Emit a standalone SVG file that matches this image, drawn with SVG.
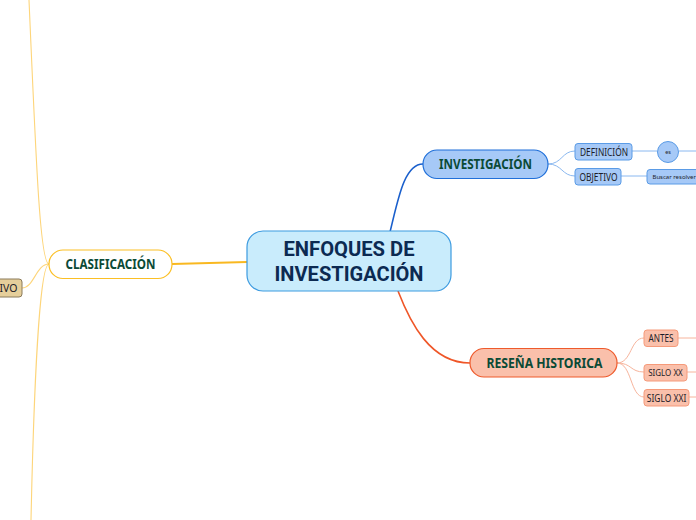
<svg xmlns="http://www.w3.org/2000/svg" width="696" height="520" viewBox="0 0 696 520">
<style>
.lbl{font-family:"Noto Sans","Liberation Sans",sans-serif;font-weight:bold;fill:#0b4a36;text-anchor:middle}
.sm{font-family:"Noto Sans","Liberation Sans",sans-serif;fill:#1c1c28;text-anchor:middle}
.c{fill:none}
</style>
<rect width="696" height="520" fill="#ffffff"/>
<g id="connectors" class="c">
<path d="M390,232 C398,200 404,164 423,164" stroke="#1a5fcc" stroke-width="1.6"/>
<path d="M398,291 C410,322 430,363 470,363" stroke="#ef5628" stroke-width="1.6"/>
<path d="M172,264 L247,262" stroke="#f9b820" stroke-width="1.8"/>
<path d="M548,164 C562,164 562,151 575,151" stroke="#8ab8f0" stroke-width="1"/>
<path d="M548,164 C562,164 562,176 575,176" stroke="#8ab8f0" stroke-width="1"/>
<path d="M632,151 L657,151 M679,151 L696,151 M621,176 L647,176" stroke="#8ab8f0" stroke-width="1"/>
<path d="M617,363 C632,363 630,338 644,338" stroke="#f7b49c" stroke-width="1"/>
<path d="M617,363 C632,363 630,372 644,372" stroke="#f7b49c" stroke-width="1"/>
<path d="M617,363 C632,363 630,397 644,397" stroke="#f7b49c" stroke-width="1"/>
<path d="M678,338 L696,338 M687,372 L696,372 M689,397 L696,397" stroke="#f7b49c" stroke-width="1"/>
<path d="M49,264 C40,264 36,160 29,0" stroke="#fdd57a" stroke-width="1.1"/>
<path d="M49,264 C40,264 34,380 31,520" stroke="#fdd57a" stroke-width="1.1"/>
<path d="M49,264 C36,264 34,288 22,288" stroke="#fdd57a" stroke-width="1.1"/>
</g>
<g id="central">
<rect x="247" y="231" width="204" height="60" rx="16" fill="#c9ecfc" stroke="#3d9be0" stroke-width="1.2"/>
<text x="349" y="256" font-family="Roboto,'Liberation Sans',sans-serif" font-weight="bold" font-size="21" fill="#0c2a52" text-anchor="middle" textLength="131" lengthAdjust="spacingAndGlyphs">ENFOQUES DE</text>
<text x="349" y="281" font-family="Roboto,'Liberation Sans',sans-serif" font-weight="bold" font-size="21" fill="#0c2a52" text-anchor="middle" textLength="149" lengthAdjust="spacingAndGlyphs">INVESTIGACIÓN</text>
</g>
<g id="investigacion">
<rect x="423" y="150" width="125" height="28.5" rx="14" fill="#a6c9f7" stroke="#1f6fd9" stroke-width="1.2"/>
<text class="lbl" x="485.5" y="169" font-size="13.5" textLength="93" lengthAdjust="spacingAndGlyphs">INVESTIGACIÓN</text>
</g>
<g id="definicion">
<rect x="575" y="143.5" width="57" height="16.5" rx="3" fill="#a6c9f7" stroke="#5a9be6" stroke-width="1"/>
<text class="sm" x="604" y="155.5" font-size="10.5" textLength="48" lengthAdjust="spacingAndGlyphs">DEFINICIÓN</text>
</g>
<g id="objetivo">
<rect x="575" y="168.5" width="46" height="16.5" rx="3" fill="#a6c9f7" stroke="#5a9be6" stroke-width="1"/>
<text class="sm" x="598.5" y="180.5" font-size="10.5" textLength="38" lengthAdjust="spacingAndGlyphs">OBJETIVO</text>
</g>
<g id="es">
<circle cx="668" cy="152" r="10.5" fill="#a6c9f7" stroke="#5a9be6" stroke-width="1"/>
<text class="sm" x="668" y="154" font-size="5.5">es</text>
</g>
<g id="buscar">
<rect x="647" y="169.5" width="60" height="14.5" rx="3" fill="#a6c9f7" stroke="#5a9be6" stroke-width="1"/>
<text class="sm" x="652.5" y="179" font-size="6" style="text-anchor:start">Buscar resolver</text>
</g>
<g id="resena">
<rect x="470" y="348.5" width="147" height="28.5" rx="14" fill="#fac0ab" stroke="#ee5a2c" stroke-width="1.2"/>
<text class="lbl" x="544.5" y="368" font-size="13.5" textLength="116" lengthAdjust="spacingAndGlyphs">RESEÑA HISTORICA</text>
</g>
<g id="antes">
<rect x="644" y="330" width="34" height="16.5" rx="3" fill="#fac0ab" stroke="#f59a7a" stroke-width="1"/>
<text class="sm" x="661" y="342" font-size="10.5" textLength="25" lengthAdjust="spacingAndGlyphs">ANTES</text>
</g>
<g id="siglo-xx">
<rect x="644" y="364.5" width="43" height="16.5" rx="3" fill="#fac0ab" stroke="#f59a7a" stroke-width="1"/>
<text class="sm" x="665.5" y="376" font-size="8.5" textLength="34.5" lengthAdjust="spacingAndGlyphs">SIGLO XX</text>
</g>
<g id="siglo-xxi">
<rect x="644" y="389.5" width="45" height="16.5" rx="3" fill="#fac0ab" stroke="#f59a7a" stroke-width="1"/>
<text class="sm" x="666.5" y="401.5" font-size="10.5" textLength="39.5" lengthAdjust="spacingAndGlyphs">SIGLO XXI</text>
</g>
<g id="clasificacion">
<rect x="49" y="250" width="123" height="28.5" rx="14" fill="#ffffff" stroke="#fbbf24" stroke-width="1.2"/>
<text class="lbl" x="110.5" y="269" font-size="13.5" textLength="90" lengthAdjust="spacingAndGlyphs">CLASIFICACIÓN</text>
</g>
<g id="ivo">
<rect x="-40" y="279" width="62" height="18" rx="3" fill="#e6cf9b" stroke="#8a7a5a" stroke-width="1"/>
<text class="sm" x="17.5" y="292" font-size="10.5" style="text-anchor:end">IVO</text>
</g>
</svg>
